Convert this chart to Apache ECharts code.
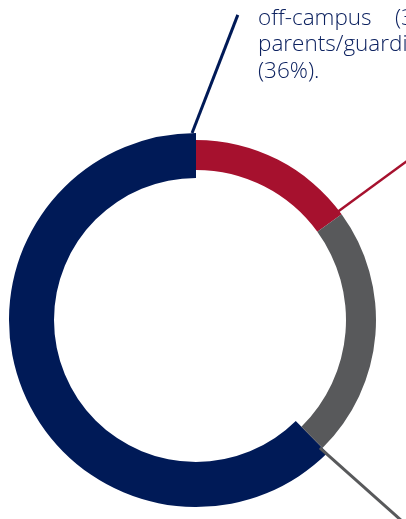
<!DOCTYPE html>
<html>
<head>
<meta charset="utf-8">
<script src="https://cdn.jsdelivr.net/npm/echarts@6/dist/echarts.min.js"></script>
<style>
  html, body { margin: 0; padding: 0; background: #fff; }
  #chart { width: 406px; height: 519px; }
</style>
</head>
<body>
<div id="chart"></div>
<script>
// slices, clockwise from 12 o'clock
const categories = ['red', 'gray', 'navy']
const values = [15, 22.6, 62.4]
const colors = ['#a6112e', '#58595b', '#001a57']

// leader lines as [radius(px), angle(deg clockwise from top)]
const navyLine = [[187, 358.8], [308, 7.8]]
const redLine = [[178, 52.6], [305, 53.1]]
const grayLine = [[178, 135.9], [312, 134.1]]

const labelText = 'off-campus    (31%) or with\nparents/guardians\n(36%).'

const chart = echarts.init(document.getElementById('chart'))

const center = [196, 320]

// 外环 (navy) 与内环 (red / gray)
const outerData = categories.map((c, i) => ({
  name: c,
  value: values[i],
  itemStyle: { color: c === 'navy' ? colors[i] : 'transparent' }
}))
const innerData = categories.map((c, i) => ({
  name: c,
  value: values[i],
  itemStyle: { color: c === 'navy' ? 'transparent' : colors[i] }
}))

const leader = (data, color, width) => ({
  type: 'line',
  coordinateSystem: 'polar',
  data: data,
  showSymbol: false,
  silent: true,
  lineStyle: { color: color, width: width },
  z: 5
})

chart.setOption({
  animation: false,
  title: {
    text: labelText,
    left: 253,
    top: 0,
    textStyle: {
      fontFamily: 'Open Sans',
      fontWeight: 300,
      fontSize: 22.5,
      lineHeight: 26.5,
      color: '#0d2260'
    }
  },
  polar: { center: center, radius: 400 },
  radiusAxis: { min: 0, max: 400, show: false },
  angleAxis: { min: 0, max: 360, startAngle: 90, clockwise: true, show: false },
  series: [
    {
      type: 'pie',
      center: center,
      radius: [142, 187],
      startAngle: 90,
      clockwise: true,
      silent: true,
      label: { show: false },
      labelLine: { show: false },
      data: outerData
    },
    {
      type: 'pie',
      center: center,
      radius: [150, 180],
      startAngle: 90,
      clockwise: true,
      silent: true,
      label: { show: false },
      labelLine: { show: false },
      data: innerData
    },
    leader(navyLine, colors[2], 3),
    leader(redLine, colors[0], 2.5),
    leader(grayLine, colors[1], 3)
  ]
})
</script>
</body>
</html>
